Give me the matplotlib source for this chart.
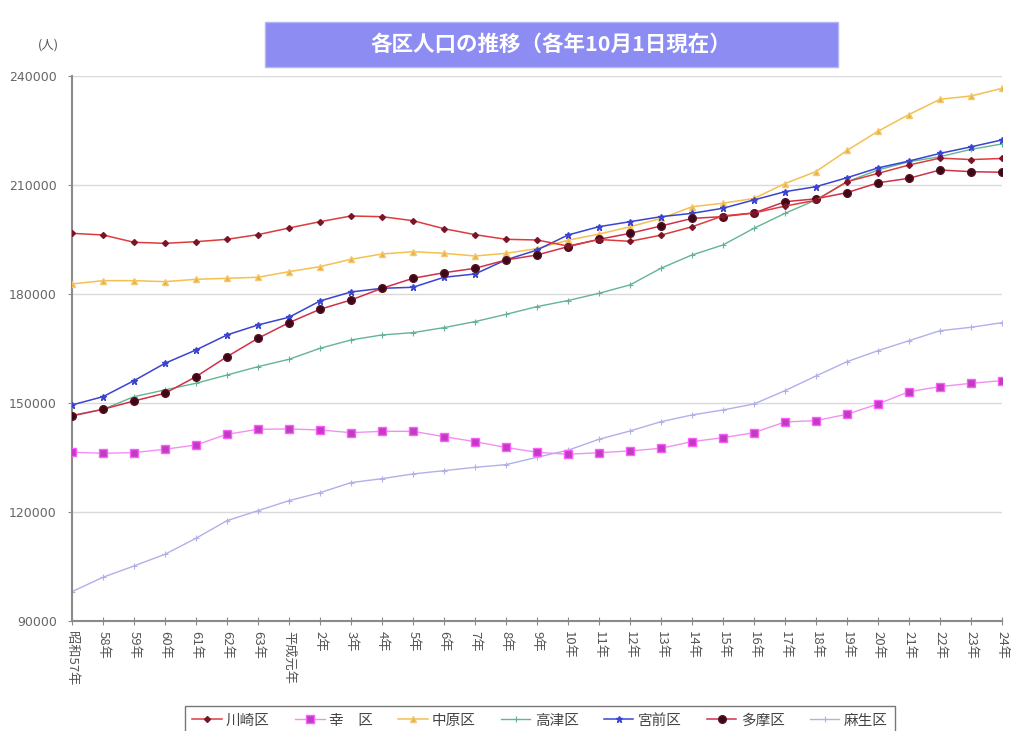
import matplotlib
matplotlib.use('Agg')
import matplotlib.pyplot as plt
from matplotlib.patches import Rectangle

plt.rcParams['font.family'] = ['Noto Sans CJK JP', 'DejaVu Sans']

# 年次（各年10月1日）
years = ['昭和57年', '58年', '59年', '60年', '61年', '62年', '63年', '平成元年',
         '2年', '3年', '4年', '5年', '6年', '7年', '8年', '9年', '10年',
         '11年', '12年', '13年', '14年', '15年', '16年', '17年', '18年',
         '19年', '20年', '21年', '22年', '23年', '24年']

# 各区人口（人）
kawasaki = [196700, 196250, 194230, 193950, 194400, 195050, 196330, 198170,
            199900, 201470, 201280, 200180, 197980, 196330, 195050, 194870,
            193200, 195000, 194500, 196200, 198500, 201500, 202300, 204200,
            205800, 210900, 213200, 215500, 217400, 217000, 217300]
saiwai = [136440, 136160, 136350, 137270, 138450, 141390, 142760, 142850,
          142580, 141840, 142200, 142200, 140740, 139360, 137760, 136440,
          135890, 136340, 136800, 137540, 139360, 140460, 141840, 144780,
          145150, 146900, 149730, 153120, 154500, 155430, 156150]
nakahara = [182760, 183670, 183670, 183400, 184050, 184320, 184600, 186150,
            187530, 189560, 191010, 191650, 191200, 190460, 191200, 192500,
            194800, 196500, 198500, 200800, 204000, 205000, 206300, 210400,
            213700, 219500, 224800, 229400, 233600, 234500, 236600]
takatsu = [146600, 148270, 151740, 153600, 155430, 157700, 160000, 162030,
           165060, 167350, 168730, 169370, 170750, 172400, 174400, 176530,
           178200, 180200, 182500, 187100, 190740, 193500, 198100, 202200,
           205900, 210900, 214130, 216400, 217800, 219800, 221300]
miyamae = [149460, 151740, 156150, 160930, 164600, 168730, 171480, 173600,
           178080, 180560, 181570, 181850, 184600, 185510, 189400, 192100,
           196240, 198530, 199900, 201280, 202200, 203600, 205900, 208160,
           209540, 212000, 214700, 216600, 218700, 220500, 222400]
tama = [146430, 148270, 150560, 152680, 157250, 162750, 167810, 172110,
        175800, 178350, 181570, 184320, 185860, 187070, 189360, 190740,
        193030, 195050, 196700, 198720, 200800, 201300, 202300, 205400,
        206200, 207900, 210600, 211850, 214130, 213670, 213500]
asao = [98080, 102040, 105150, 108370, 112770, 117620, 120370, 123120,
        125320, 128080, 129180, 130470, 131380, 132300, 133030, 135070,
        137000, 140020, 142300, 144860, 146700, 148080, 149730, 153400,
        157440, 161380, 164400, 167150, 169900, 170840, 172110]

fig = plt.figure(figsize=(10.12, 7.31), dpi=100)
ax = fig.add_axes([72 / 1012, 1 - 621 / 731, 930 / 1012, 545 / 731])

x = list(range(len(years)))

ax.plot(x, asao, color='#b0b0ea', lw=1.0, marker='+', ms=4, mew=0.8,
        label='麻生区', zorder=2)
ax.plot(x, saiwai, color='#f290f2', lw=1.0, marker='s', ms=5.5,
        mfc='#c23cc2', mec='#ff5cff', label='幸\u3000区', zorder=3)
ax.plot(x, takatsu, color='#64b494', lw=1.0, marker='+', ms=4, mew=0.8,
        label='高津区', zorder=3)
ax.plot(x, nakahara, color='#f4c050', lw=1.1, marker='^', ms=5,
        mfc='#e8b040', mec='#f4c870', label='中原区', zorder=3)
ax.plot(x, miyamae, color='#3a44d0', lw=1.1, marker='*', ms=5,
        mfc='#3a44d0', mec='#3a44d0', label='宮前区', zorder=5)
ax.plot(x, tama, color='#d0304a', lw=1.1, marker='o', ms=5.5,
        mfc='#3a0818', mec='#5a1020', label='多摩区', zorder=6)
ax.plot(x, kawasaki, color='#dc3c3c', lw=1.1, marker='D', ms=3,
        mfc='#7a1428', mec='#7a1428', label='川崎区', zorder=6)

ax.set_xlim(0, len(years) - 1)
ax.set_ylim(90000, 240000)
ax.set_yticks([90000, 120000, 150000, 180000, 210000, 240000])
ax.set_yticklabels(['90000', '120000', '150000', '180000', '210000', '240000'],
                   fontsize=9, color='#666666', family='DejaVu Sans')
ax.set_xticks(x)
ax.set_xticklabels(years, rotation=-90, fontsize=9.5, color='#555555',
                   va='top', ha='center')

ax.grid(axis='y', color='#dadada', lw=1.0)
ax.set_axisbelow(True)
for side in ['top', 'right']:
    ax.spines[side].set_visible(False)
ax.spines['left'].set_color('#8a8a8a')
ax.spines['bottom'].set_color('#8a8a8a')
ax.spines['left'].set_linewidth(1.5)
ax.spines['bottom'].set_linewidth(1.5)
ax.tick_params(axis='x', direction='inout', length=6, color='#8a8a8a', pad=4)
ax.tick_params(axis='y', direction='out', length=3, color='#8a8a8a', pad=8)

fig.text(48 / 1012, 1 - 45 / 731, '(人)', fontsize=9, color='#555555',
         ha='center', va='center')

# タイトル帯
fig.patches.append(Rectangle((265 / 1012, 1 - 67 / 731), 573 / 1012, 45 / 731,
                             transform=fig.transFigure, facecolor='#8c8cf2',
                             edgecolor='#b4b4f6', lw=1.0))
fig.text(551 / 1012, 1 - 44 / 731, '各区人口の推移（各年10月1日現在）',
         fontsize=15.5, fontweight='bold', color='white',
         ha='center', va='center')

handles, labels = ax.get_legend_handles_labels()
order = ['川崎区', '幸\u3000区', '中原区', '高津区', '宮前区', '多摩区', '麻生区']
hmap = dict(zip(labels, handles))
leg = fig.legend([hmap[k] for k in order], order, ncol=7,
                 loc='upper center', bbox_to_anchor=(540 / 1012, 1 - 699 / 731),
                 fontsize=10.5, frameon=True, fancybox=False,
                 edgecolor='#555555', handlelength=2.0, handletextpad=0.3,
                 columnspacing=1.75, borderpad=0.5, labelcolor='#444444')
leg.get_frame().set_linewidth(1.0)

fig.savefig('out.png', dpi=100)
